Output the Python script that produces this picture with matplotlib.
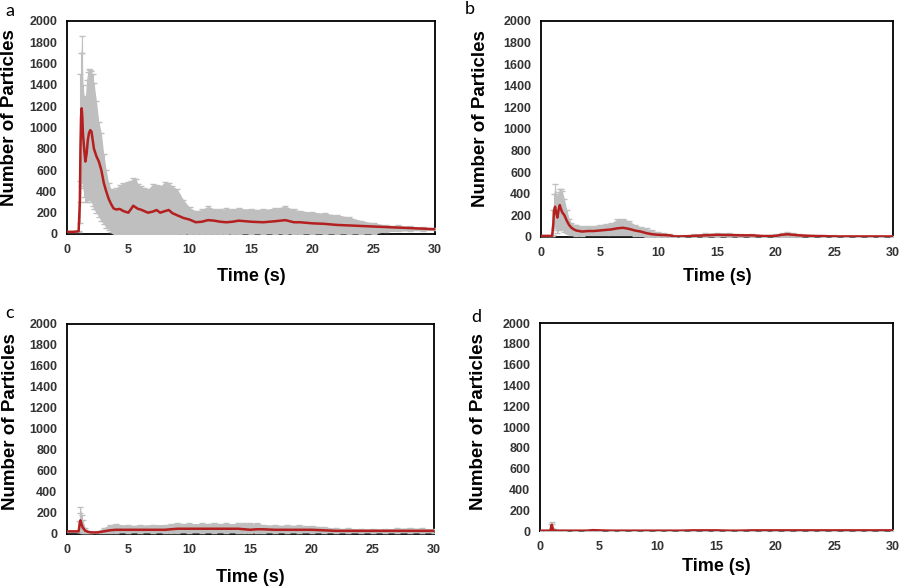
import matplotlib
matplotlib.use("Agg")
import matplotlib.pyplot as plt
import numpy as np

plt.rcParams['font.family'] = ['Liberation Sans', 'DejaVu Sans']

# panel a
t_a = [0, 0.5, 0.95, 1.05, 1.1, 1.15, 1.2, 1.25, 1.3, 1.4, 1.5, 1.6, 1.7, 1.8, 1.9, 2.0, 2.1, 2.2,
       2.4, 2.6, 2.8, 3.0, 3.2, 3.4, 3.6, 3.8, 4.0, 4.3, 4.6, 5.0, 5.2, 5.4, 5.6, 5.8, 6.0, 6.3,
       6.6, 7.0, 7.3, 7.6, 8.0, 8.3, 8.6, 9.0, 9.5, 10.0, 10.5, 11.0, 11.5, 12.0, 12.5, 13.0,
       13.5, 14.0, 15.0, 16.0, 17.0, 17.8, 18.5, 19.0, 20.0, 21.0, 22.0, 23.0, 24.0, 25.0,
       26.0, 27.0, 28.0, 29.0, 30.0]
mean_a = [20, 20, 25, 300, 800, 1100, 1180, 1100, 950, 800, 680, 750, 880, 950, 975, 960, 880, 800,
          730, 680, 600, 480, 400, 330, 280, 240, 230, 235, 215, 200, 230, 265, 250, 235, 230, 215,
          200, 210, 225, 200, 215, 225, 195, 175, 150, 135, 110, 115, 130, 125, 115, 110,
          115, 125, 115, 110, 120, 130, 110, 110, 100, 95, 85, 80, 75, 70,
          65, 60, 55, 50, 45]
upper_a = [25, 25, 30, 500, 1500, 1700, 1860, 1700, 1400, 1300, 1280, 1450, 1520, 1550, 1540, 1530, 1500, 1420,
           1250, 1050, 950, 750, 600, 480, 420, 410, 430, 460, 480, 490, 500, 530, 520, 470, 450, 430,
           420, 470, 460, 450, 490, 480, 450, 420, 320, 250, 215, 230, 260, 235, 230, 240,
           235, 240, 235, 230, 245, 260, 230, 220, 205, 195, 180, 160, 125, 105,
           85, 80, 75, 65, 55]
lower_a = [15, 15, 20, 100, 300, 450, 500, 480, 430, 350, 300, 300, 320, 340, 330, 300, 260, 230,
           200, 160, 120, 90, 60, 40, 20, 5, 0, 0, 0, 0, 0, 0, 0, 0, 0, 0,
           0, 0, 0, 0, 0, 0, 0, 0, 0, 0, 0, 0, 0, 0, 0, 0,
           0, 0, 0, 0, 0, 0, 0, 0, 0, 0, 0, 0, 0, 0,
           20, 25, 30, 30, 35]

# panel b
t_b = [0, 0.5, 0.95, 1.05, 1.1, 1.2, 1.3, 1.4, 1.5, 1.6, 1.7, 1.8, 2.0, 2.2, 2.4, 2.6, 2.8, 3.0,
       3.5, 4.0, 4.5, 5.0, 5.5, 6.0, 6.5, 7.0, 7.5, 8.0, 8.5, 9.0, 9.5, 10.0, 10.5, 11.0, 11.3,
       12.0, 13.0, 14.0, 15.0, 16.0, 17.0, 18.0, 19.0, 20.0, 20.5, 21.0, 21.5, 22.0, 23.0, 24.0,
       25.0, 26.0, 27.0, 28.0, 29.0, 30.0]
mean_b = [10, 10, 10, 120, 240, 280, 220, 180, 250, 295, 260, 230, 200, 150, 110, 85, 70, 60,
          50, 55, 55, 60, 65, 70, 80, 85, 75, 60, 50, 35, 25, 20, 18, 15, 5,
          5, 10, 15, 20, 18, 15, 15, 8, 10, 20, 25, 20, 15, 10, 8,
          5, 5, 5, 5, 5, 5]
upper_b = [12, 12, 12, 250, 400, 490, 400, 380, 420, 440, 440, 430, 350, 250, 170, 130, 115, 110,
           100, 100, 105, 115, 120, 130, 165, 170, 150, 115, 95, 80, 60, 45, 35, 30, 20,
           20, 25, 35, 40, 38, 32, 28, 20, 25, 40, 45, 40, 30, 22, 18,
           15, 12, 12, 12, 10, 10]
lower_b = [8, 8, 8, 20, 80, 100, 60, 40, 60, 80, 70, 60, 50, 40, 30, 20, 15, 10,
           10, 15, 15, 15, 15, 15, 20, 20, 15, 10, 5, 0, 0, 0, 0, 0, 0,
           0, 0, 0, 0, 0, 0, 0, 0, 0, 0, 0, 0, 0, 0, 0,
           0, 0, 0, 0, 0, 0]

# panel c
t_c = [0, 0.5, 0.95, 1.0, 1.05, 1.1, 1.2, 1.3, 1.5, 1.8, 2.0, 2.5, 3.0, 3.5, 4.0, 5.0, 6.0, 7.0,
       8.0, 8.5, 9.0, 10.0, 11.0, 12.0, 13.0, 14.0, 14.5, 15.0, 15.5, 16.0, 17.0, 18.0, 19.0,
       20.0, 21.0, 22.0, 23.0, 24.0, 25.0, 26.0, 27.0, 28.0, 29.0, 30.0]
mean_c = [25, 25, 25, 60, 110, 130, 90, 60, 30, 18, 15, 15, 25, 35, 40, 40, 40, 40,
          40, 45, 50, 50, 50, 50, 50, 50, 45, 40, 45, 45, 40, 40, 40,
          40, 35, 30, 30, 30, 30, 30, 30, 30, 30, 30]
upper_c = [30, 30, 30, 120, 200, 255, 180, 130, 60, 25, 22, 30, 60, 90, 95, 85, 85, 90,
           90, 95, 105, 100, 100, 105, 100, 100, 100, 100, 105, 90, 85, 85, 85,
           80, 70, 55, 55, 50, 50, 50, 55, 60, 55, 50]
lower_c = [20, 20, 20, 20, 20, 20, 15, 10, 5, 5, 5, 5, 5, 10, 10, 10, 10, 10,
           10, 10, 10, 10, 10, 10, 10, 10, 10, 10, 10, 10, 10, 10, 10,
           10, 10, 10, 10, 10, 10, 10, 10, 10, 10, 10]

# panel d
t_d = [0, 0.5, 0.9, 0.95, 1.0, 1.05, 1.1, 1.2, 1.5, 2, 3, 4, 4.5, 5, 6, 7, 8, 9, 10, 11, 12,
       13, 14, 15, 16, 17, 18, 19, 20, 21, 22, 23, 24, 25, 26, 27, 28, 29, 30]
mean_d = [3, 3, 3, 40, 60, 40, 10, 5, 3, 3, 3, 3, 8, 6, 3, 3, 3, 3, 3, 3, 3,
          6, 6, 6, 3, 3, 6, 6, 6, 6, 6, 6, 6, 6, 6, 6, 6, 6, 6]
upper_d = [5, 5, 5, 70, 90, 70, 15, 8, 5, 5, 5, 6, 12, 10, 5, 5, 5, 5, 5, 5, 5,
           10, 10, 10, 5, 5, 10, 10, 10, 10, 10, 10, 10, 10, 12, 10, 10, 10, 10]
lower_d = [0, 0, 0, 10, 30, 10, 0, 0, 0, 0, 0, 0, 0, 0, 0, 0, 0, 0, 0, 0, 0,
           0, 0, 0, 0, 0, 0, 0, 0, 0, 0, 0, 0, 0, 0, 0, 0, 0, 0]

panels = [
    ("a", t_a, mean_a, upper_a, lower_a),
    ("b", t_b, mean_b, upper_b, lower_b),
    ("c", t_c, mean_c, upper_c, lower_c),
    ("d", t_d, mean_d, upper_d, lower_d),
]

# axes rectangles, label offsets (axes coords), panel letter positions (px)
rects = [
    [0.0744, 0.6014, 0.4089, 0.3629],
    [0.6011, 0.5963, 0.3911, 0.3680],
    [0.0744, 0.0903, 0.4078, 0.3578],
    [0.6000, 0.0954, 0.3922, 0.3543],
]
ylab_x = [-0.155, -0.173, -0.155, -0.173]
ylab_y = [0.545, 0.546, 0.533, 0.524]
xlab_y = [-0.20, -0.185, -0.205, -0.173]
letter_pos = [(10, 11), (470, 9), (10, 313), (476, 317)]

red = '#b3201f'
grey = '#bfbfbf'

fig = plt.figure(figsize=(9, 5.87), dpi=100)

for i, (name, t, m, up, lo) in enumerate(panels):
    ax = fig.add_axes(rects[i])
    t = np.array(t)
    m = np.array(m)
    up = np.array(up)
    lo = np.array(lo)
    ax.fill_between(t, lo, up, color=grey, lw=0, zorder=3)
    ax.errorbar(t, m, yerr=[m - lo, up - m], fmt='none', ecolor=grey,
                elinewidth=0.8, capsize=2, zorder=3)
    ax.plot(t, m, color=red, lw=1.8, zorder=4)

    ax.set_xlim(0, 30)
    ax.set_ylim(0, 2000)
    ax.set_xticks(range(0, 31, 5))
    ax.set_yticks(range(0, 2001, 200))
    ax.tick_params(length=0, labelsize=9, labelcolor='#333333', pad=7)
    for lab in ax.get_xticklabels() + ax.get_yticklabels():
        lab.set_fontweight('bold')
    for sp in ax.spines.values():
        sp.set_color('black')
        sp.set_linewidth(1.3)

    ax.set_ylabel('Number of Particles', fontsize=13.5, fontweight='bold')
    ax.yaxis.set_label_coords(ylab_x[i], ylab_y[i])
    ax.yaxis.label.set_verticalalignment('center')
    ax.set_xlabel('Time (s)', fontsize=13, fontweight='bold')
    ax.xaxis.set_label_coords(0.5, xlab_y[i])
    ax.xaxis.label.set_verticalalignment('center')

    lx, ly = letter_pos[i]
    fig.text(lx / 900, 1 - ly / 587, name, fontsize=13, family=['Lato', 'DejaVu Sans'],
             ha='center', va='center')

fig.savefig('out.png', dpi=100)
